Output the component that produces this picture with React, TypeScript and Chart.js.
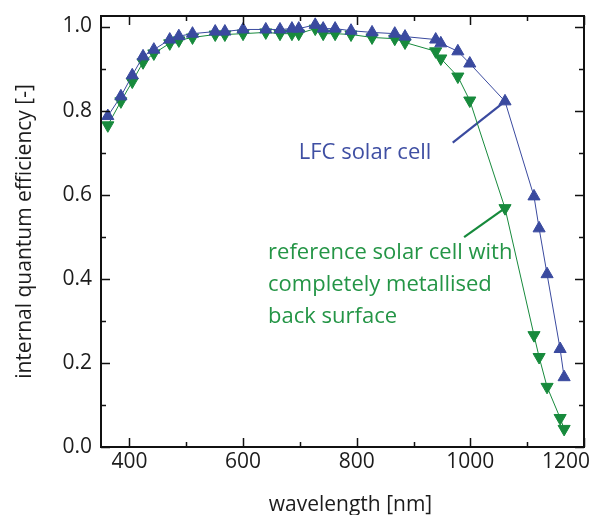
import React, { useEffect, useRef } from 'react';
import { Chart, registerables } from 'chart.js';

Chart.register(...registerables);

// ---- data ----
const wavelengths = [362, 385, 405, 424, 443, 471, 487, 511, 551, 568, 600, 640, 665, 686, 698, 727, 741, 762, 790, 827, 867, 885, 939, 948, 978, 999, 1061, 1112, 1121, 1135, 1158, 1165];
const lfcIqe = [0.787, 0.834, 0.884, 0.929, 0.945, 0.969, 0.977, 0.983, 0.988, 0.988, 0.993, 0.993, 0.993, 0.995, 0.995, 1.004, 0.995, 0.995, 0.99, 0.986, 0.983, 0.976, 0.969, 0.96, 0.941, 0.912, 0.822, 0.596, 0.52, 0.411, 0.233, 0.166];
const refIqe = [0.765, 0.822, 0.869, 0.915, 0.936, 0.96, 0.967, 0.974, 0.981, 0.981, 0.983, 0.986, 0.983, 0.983, 0.983, 0.995, 0.983, 0.983, 0.981, 0.974, 0.971, 0.962, 0.941, 0.924, 0.881, 0.824, 0.568, 0.266, 0.214, 0.143, 0.069, 0.043];

const xMajorTicks = [400, 600, 800, 1000, 1200];
const xMinorTicks = [500, 700, 900, 1100];
const yMajorTicks = [0, 0.2, 0.4, 0.6, 0.8, 1.0];
const yMinorTicks = [0.1, 0.3, 0.5, 0.7, 0.9];

const xTitle = 'wavelength [nm]';
const yTitle = 'internal quantum efficiency [-]';
const lfcLabel = ['LFC solar cell'];
const refLabel = ['reference solar cell with', 'completely metallised', 'back surface'];

// annotation anchors in data units
const lfcPointer = [[969, 0.724], [1061, 0.822]];
const refPointer = [[989, 0.499], [1061, 0.568]];
const lfcLabelAt = [698, 0.70];
const refLabelAt = [644, 0.461];

const BLUE = '#3a4a9f';
const GREEN = '#178a3c';
const BLUE_TEXT = '#3f4fa3';
const GREEN_TEXT = '#249546';
const FONT = "'Open Sans', 'Noto Sans', sans-serif";
const INK = '#1c1c1c';

const framePlugin = {
  id: 'frameAndNotes',
  beforeDatasetsDraw(chart: any) {
    const { ctx, scales } = chart;
    const x = scales.x, y = scales.y;
    ctx.save();
    ctx.lineWidth = 2.2;
    ctx.lineCap = 'butt';
    const seg = (pts: number[][], color: string) => {
      ctx.strokeStyle = color;
      ctx.beginPath();
      ctx.moveTo(x.getPixelForValue(pts[0][0]), y.getPixelForValue(pts[0][1]));
      ctx.lineTo(x.getPixelForValue(pts[1][0]), y.getPixelForValue(pts[1][1]));
      ctx.stroke();
    };
    seg(lfcPointer, BLUE);
    seg(refPointer, GREEN);
    ctx.restore();
  },
  afterDraw(chart: any) {
    const { ctx, chartArea, scales, width } = chart;
    const x = scales.x, y = scales.y;
    const { left, right, top, bottom } = chartArea;
    ctx.save();
    // frame
    ctx.strokeStyle = '#111';
    ctx.lineWidth = 2;
    ctx.strokeRect(left, top, right - left, bottom - top);
    // ticks (inward)
    ctx.lineWidth = 1.5;
    const major = 9, minor = 5;
    const xt = (v: number, len: number) => {
      const px = Math.round(x.getPixelForValue(v)) + 0.5;
      ctx.beginPath();
      ctx.moveTo(px, bottom); ctx.lineTo(px, bottom - len);
      ctx.moveTo(px, top); ctx.lineTo(px, top + len);
      ctx.stroke();
    };
    const yt = (v: number, len: number) => {
      const py = Math.round(y.getPixelForValue(v)) + 0.5;
      ctx.beginPath();
      ctx.moveTo(left, py); ctx.lineTo(left + len, py);
      ctx.moveTo(right, py); ctx.lineTo(right - len, py);
      ctx.stroke();
    };
    xMajorTicks.forEach((v) => xt(v, major));
    xMinorTicks.forEach((v) => xt(v, minor));
    yMajorTicks.forEach((v) => yt(v, major));
    yMinorTicks.forEach((v) => yt(v, minor));
    // x tick labels
    ctx.font = `21px ${FONT}`;
    ctx.fillStyle = INK;
    ctx.textAlign = 'center';
    ctx.textBaseline = 'middle';
    xMajorTicks.forEach((v) => {
      const label = String(v);
      const w = ctx.measureText(label).width;
      let px = x.getPixelForValue(v);
      if (px + w / 2 > width - 7) px = width - 7 - w / 2;
      ctx.fillText(label, px, bottom + 15);
    });
    // x axis title
    ctx.font = `21px ${FONT}`;
    ctx.fillText(xTitle, (left + right) / 2 + 8, bottom + 58);
    // annotations
    ctx.textAlign = 'left';
    ctx.font = `22px ${FONT}`;
    ctx.fillStyle = BLUE_TEXT;
    lfcLabel.forEach((t, i) => {
      ctx.fillText(t, x.getPixelForValue(lfcLabelAt[0]), y.getPixelForValue(lfcLabelAt[1]) + i * 32);
    });
    ctx.fillStyle = GREEN_TEXT;
    refLabel.forEach((t, i) => {
      ctx.fillText(t, x.getPixelForValue(refLabelAt[0]), y.getPixelForValue(refLabelAt[1]) + i * 32);
    });
    ctx.restore();
  },
};

export default function App() {
  const ref = useRef<HTMLCanvasElement | null>(null);
  useEffect(() => {
    document.body.style.margin = '0';
    const canvas = ref.current;
    if (!canvas) return;
    const chart = new Chart(canvas, {
      type: 'line',
      data: {
        datasets: [
          {
            label: 'LFC solar cell',
            data: wavelengths.map((w, i) => ({ x: w, y: lfcIqe[i] })),
            borderColor: BLUE,
            backgroundColor: BLUE,
            borderWidth: 1,
            pointStyle: 'triangle',
            pointRadius: 7,
            pointBorderWidth: 1,
            pointRotation: 0,
            tension: 0,
          },
          {
            label: 'reference solar cell',
            data: wavelengths.map((w, i) => ({ x: w, y: refIqe[i] })),
            borderColor: GREEN,
            backgroundColor: GREEN,
            borderWidth: 1,
            pointStyle: 'triangle',
            pointRadius: 7,
            pointBorderWidth: 1,
            pointRotation: 180,
            tension: 0,
          },
        ],
      },
      options: {
        animation: false,
        responsive: false,
        devicePixelRatio: 1,
        layout: { padding: { left: 0, right: 13, top: 16, bottom: 0 } },
        plugins: { legend: { display: false }, tooltip: { enabled: false } },
        scales: {
          x: {
            type: 'linear',
            min: 350,
            max: 1200,
            grid: { display: false, drawTicks: false },
            border: { display: false },
            ticks: { display: false },
            title: { display: false },
            afterFit: (s: any) => {
              s.height = 68;
              s.paddingLeft = 0;
              s.paddingRight = 0;
            },
          },
          y: {
            type: 'linear',
            min: 0,
            max: 1.025,
            grid: { display: false, drawTicks: false },
            border: { display: false },
            afterBuildTicks: (s: any) => {
              s.ticks = yMajorTicks.map((v) => ({ value: v }));
            },
            ticks: {
              color: INK,
              padding: 9,
              font: { family: FONT, size: 21 },
              callback: (v: any) => Number(v).toFixed(1),
            },
            title: {
              display: true,
              text: yTitle,
              color: INK,
              font: { family: FONT, size: 21 },
              padding: { top: 12, bottom: 0 },
            },
            afterFit: (s: any) => {
              s.width = 101;
              s.paddingTop = 0;
              s.paddingBottom = 0;
            },
          },
        },
      },
      plugins: [framePlugin],
    } as any);
    return () => chart.destroy();
  }, []);
  return (
    <div style={{ width: 597, height: 515 }}>
      <canvas ref={ref} width={597} height={515} style={{ display: 'block' }} />
    </div>
  );
}
